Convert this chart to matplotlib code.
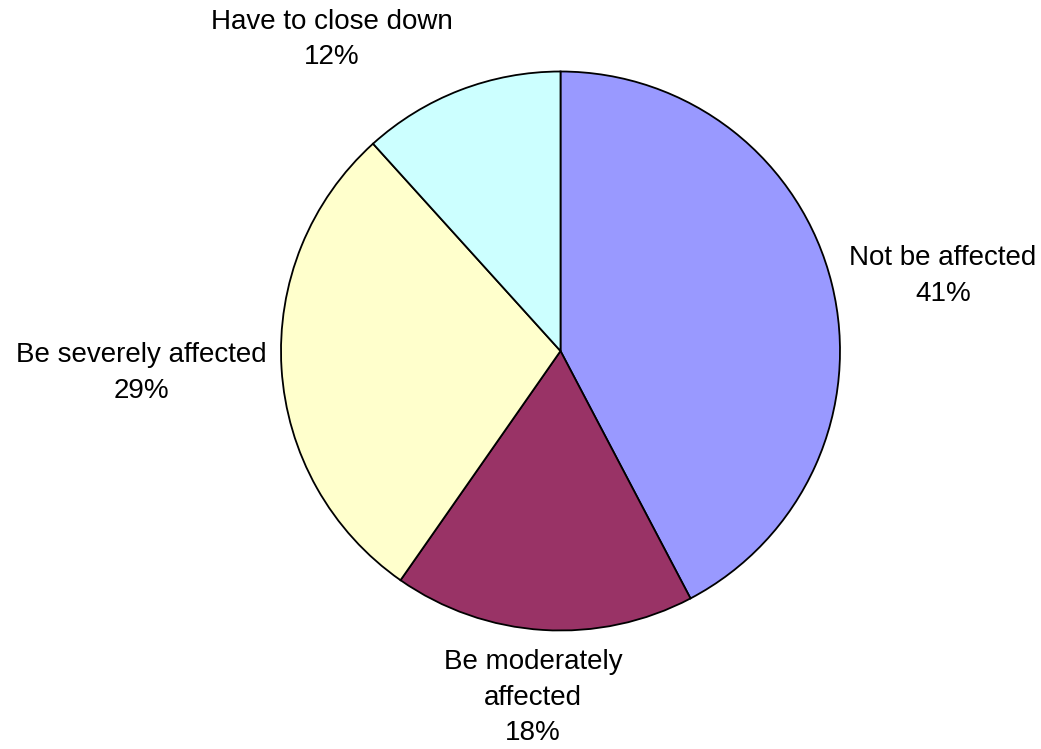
import matplotlib.pyplot as plt

# survey answers, clockwise from 12 o'clock
categories = ["Not be affected", "Be moderately\naffected", "Be severely affected", "Have to close down"]
# slice sizes as drawn in the picture, and the percentages printed on it
slice_sizes = [42.3, 17.4, 28.6, 11.7]
pct_labels = ["41%", "18%", "29%", "12%"]
colors = ["#9999FF", "#993366", "#FFFFCC", "#CCFFFF"]

# label centres in pie-radius units (hand placed, as in the original)
label_pos = [(1.368, 0.268), (-0.098, -1.241), (-1.499, -0.079), (-0.819, 1.114)]

plt.rcParams["font.family"] = ["Liberation Sans", "DejaVu Sans"]

fig = plt.figure(figsize=(10.41, 7.49), dpi=100)
ax = fig.add_axes([0, 0, 1, 1])

wedges, texts = ax.pie(
    slice_sizes,
    labels=[f"{c}\n{p}" for c, p in zip(categories, pct_labels)],
    colors=colors,
    startangle=90,
    counterclock=False,
    wedgeprops=dict(edgecolor="black", linewidth=1.3),
    textprops=dict(fontsize=20, ha="center", va="center", linespacing=1.48),
)
for t, (x, y) in zip(texts, label_pos):
    t.set_position((x, y))
    t.set_ha("center")
    t.set_va("center")

r = 279.5
cx, cy = 560.5, 351.0
ax.set_xlim(-cx / r, (1041 - cx) / r)
ax.set_ylim(-(749 - cy) / r, cy / r)
ax.set_aspect("auto")
ax.axis("off")

fig.savefig("out.png", dpi=100)
